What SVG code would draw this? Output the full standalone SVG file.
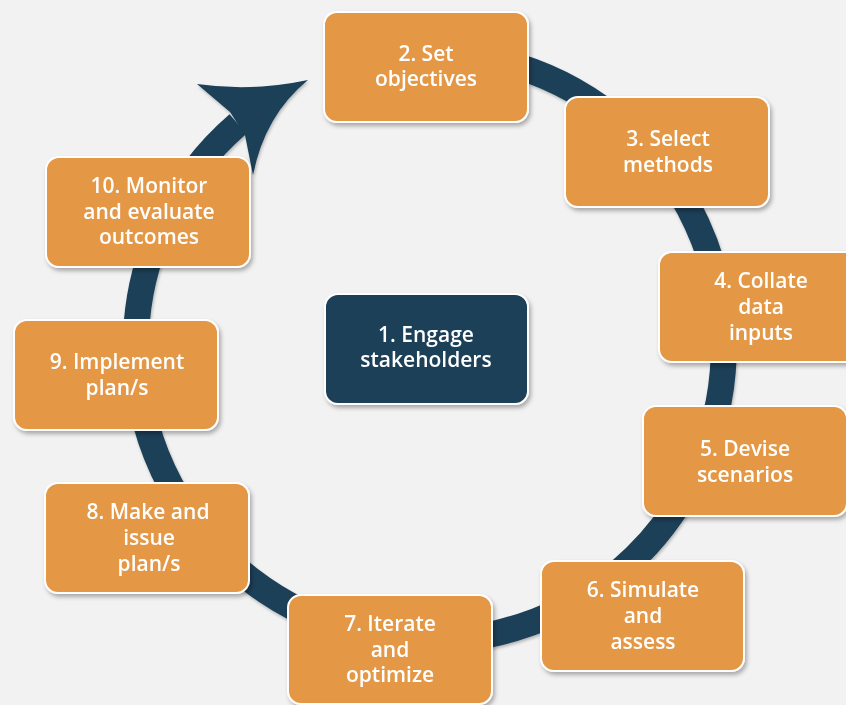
<svg xmlns="http://www.w3.org/2000/svg" width="846" height="705" viewBox="0 0 846 705">
<defs>
<filter id="sh" x="-10%" y="-10%" width="125%" height="130%">
<feDropShadow dx="2" dy="3" stdDeviation="2" flood-color="#000" flood-opacity="0.3"/>
</filter>
<filter id="sha" x="-10%" y="-10%" width="120%" height="120%">
<feDropShadow dx="1" dy="2" stdDeviation="1.5" flood-color="#000" flood-opacity="0.25"/>
</filter>
<style>
.box{fill:#e49745;stroke:#ffffff;stroke-width:2}
.dark{fill:#1b3f58;stroke:#ffffff;stroke-width:2}
.t{font-family:"Open Sans","Noto Sans","Liberation Sans",sans-serif;font-weight:600;font-size:21px;fill:#ffffff;text-anchor:middle}
</style>
</defs>
<rect width="846" height="705" fill="#f2f2f2"/>
<g id="connectors" filter="url(#sha)">
<path d="M 502.8 62 A 294 294 0 1 1 238 124" fill="none" stroke="#1b3f58" stroke-width="26"/>
<path d="M 230 112 L 197 84 Q 252 92 308 80 Q 265 115 253 175 L 245 135 Z" fill="#1b3f58"/>
</g>
<g id="n2" filter="url(#sh)"><rect class="box" x="324" y="12" width="204" height="110" rx="13"/>
<text class="t" x="426" y="61">2. Set</text><text class="t" x="426" y="86">objectives</text></g>
<g id="n3" filter="url(#sh)"><rect class="box" x="565" y="97" width="204" height="110" rx="13"/>
<text class="t" x="668" y="146">3. Select</text><text class="t" x="668" y="172">methods</text></g>
<g id="n4" filter="url(#sh)"><rect class="box" x="659" y="252" width="204" height="110" rx="13"/>
<text class="t" x="761" y="288">4. Collate</text><text class="t" x="761" y="314">data</text><text class="t" x="761" y="340">inputs</text></g>
<g id="n5" filter="url(#sh)"><rect class="box" x="643" y="406" width="204" height="110" rx="13"/>
<text class="t" x="745" y="456">5. Devise</text><text class="t" x="745" y="482">scenarios</text></g>
<g id="n6" filter="url(#sh)"><rect class="box" x="541" y="561" width="203" height="110" rx="13"/>
<text class="t" x="643" y="597">6. Simulate</text><text class="t" x="643" y="623">and</text><text class="t" x="643" y="649">assess</text></g>
<g id="n7" filter="url(#sh)"><rect class="box" x="288" y="595" width="204" height="109" rx="13"/>
<text class="t" x="390" y="631">7. Iterate</text><text class="t" x="390" y="657">and</text><text class="t" x="390" y="682">optimize</text></g>
<g id="n8" filter="url(#sh)"><rect class="box" x="45" y="483" width="204" height="110" rx="13"/>
<text class="t" x="148" y="519">8. Make and</text><text class="t" x="149" y="545">issue</text><text class="t" x="149" y="571">plan/s</text></g>
<g id="n9" filter="url(#sh)"><rect class="box" x="14" y="320" width="204" height="110" rx="13"/>
<text class="t" x="117" y="369">9. Implement</text><text class="t" x="117" y="395">plan/s</text></g>
<g id="n10" filter="url(#sh)"><rect class="box" x="46" y="157" width="204" height="110" rx="13"/>
<text class="t" x="149" y="193">10. Monitor</text><text class="t" x="149" y="219">and evaluate</text><text class="t" x="149" y="244">outcomes</text></g>
<g id="n1" filter="url(#sh)"><rect class="dark" x="325" y="294" width="203" height="110" rx="13"/>
<text class="t" x="426" y="342">1. Engage</text><text class="t" x="426" y="367">stakeholders</text></g>
</svg>
